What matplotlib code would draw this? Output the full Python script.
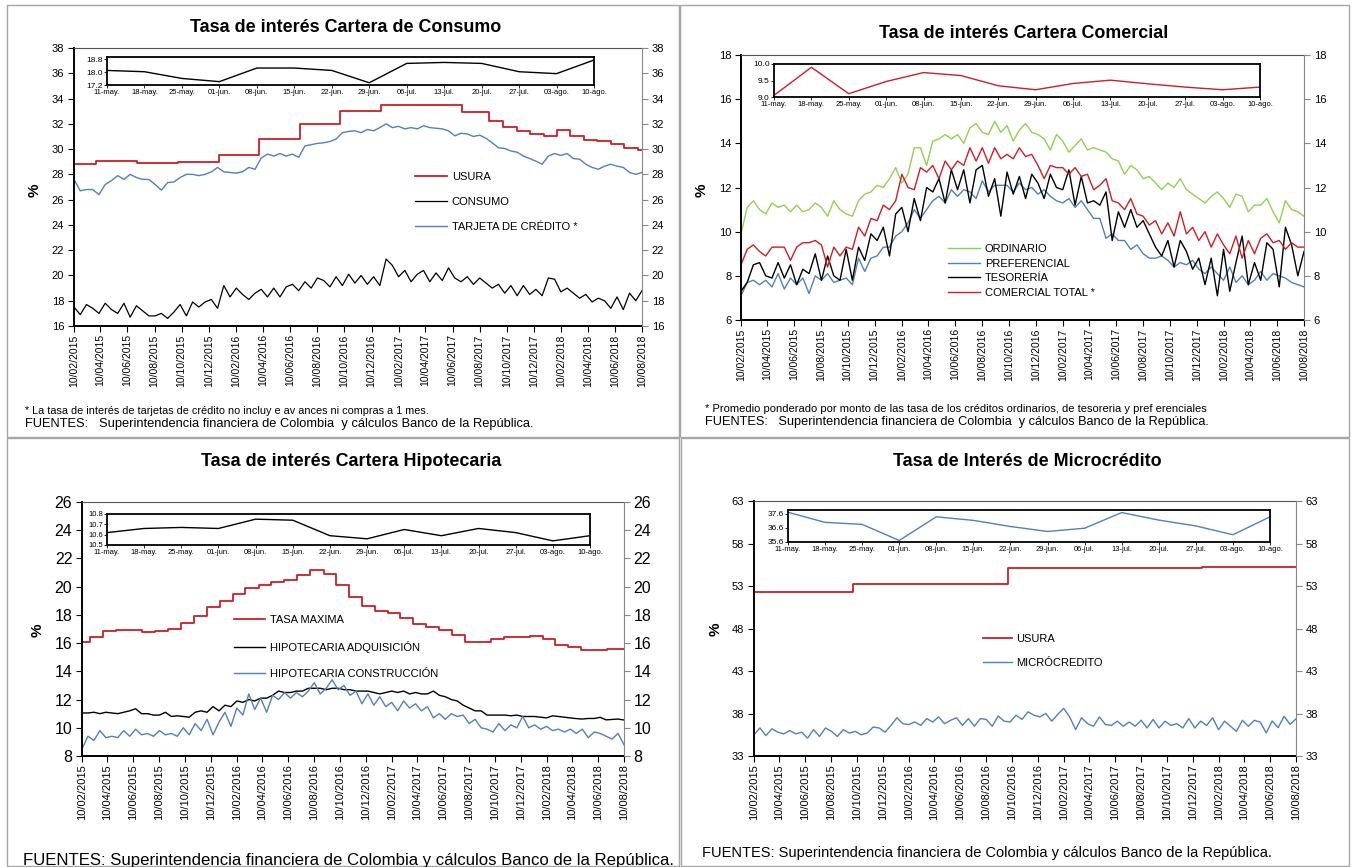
import matplotlib
matplotlib.use("Agg")
import matplotlib.pyplot as plt
import matplotlib.dates as mdates
from matplotlib.patches import Rectangle
import pandas as pd

W, H = 1352, 867
plt.rcParams['font.family'] = ['Liberation Sans Narrow', 'Liberation Sans', 'DejaVu Sans']

RED = '#CC1F26'
BLUE = '#4F81BD'
GREEN = '#92D050'
BLACK = '#000000'

START = pd.Timestamp('2015-02-10')
END = pd.Timestamp('2018-08-10')

# weekly series read every ~2 weeks (92 points, 10/02/2015 .. 10/08/2018)
dates = pd.date_range(START, END, periods=92)
tick_dates = pd.date_range('2015-02-01', '2018-08-01', freq='2MS') + pd.Timedelta(days=9)

week_labels = ['11-may.', '18-may.', '25-may.', '01-jun.', '08-jun.', '15-jun.', '22-jun.',
               '29-jun.', '06-jul.', '13-jul.', '20-jul.', '27-jul.', '03-ago.', '10-ago.']

# ---------------- Consumo ----------------
usura_cons_dates = ['2015-02-10', '2015-04-01', '2015-07-01', '2015-10-01', '2016-01-01',
                    '2016-04-01', '2016-07-01', '2016-10-01', '2017-01-01', '2017-07-01',
                    '2017-09-01', '2017-10-01', '2017-11-01', '2017-12-01', '2018-01-01',
                    '2018-02-01', '2018-03-01', '2018-04-01', '2018-05-01', '2018-06-01',
                    '2018-07-01', '2018-08-01']
usura_cons = [28.82, 29.06, 28.89, 29.00, 29.52, 30.81, 32.01, 32.99, 33.51, 32.97,
              32.22, 31.73, 31.44, 31.16, 31.04, 31.52, 31.02, 30.72, 30.66, 30.42,
              30.05, 29.91]

consumo = [17.5, 16.9, 17.7, 17.4, 17.0, 17.8, 17.3, 17.0, 17.8, 16.7, 17.6, 17.2, 16.8,
           16.8, 17.0, 16.6, 17.1, 17.7, 16.8, 17.9, 17.5, 17.9, 18.1, 17.4, 19.2, 18.3,
           19.0, 18.5, 18.1, 18.6, 18.9, 18.3, 19.0, 18.3, 19.1, 19.3, 18.8, 19.5, 19.0,
           19.8, 19.6, 19.1, 19.9, 19.2, 20.1, 19.4, 20.0, 19.3, 19.9, 19.2, 21.3, 20.8,
           19.9, 20.4, 19.5, 20.1, 20.4, 19.5, 20.2, 19.6, 20.6, 19.8, 19.5, 19.9, 19.3,
           19.8, 19.4, 19.0, 19.3, 18.6, 19.2, 18.4, 19.2, 18.5, 18.9, 18.4, 19.8, 19.7,
           18.7, 19.0, 18.6, 18.2, 18.5, 17.9, 18.2, 18.0, 17.4, 18.3, 17.3, 18.6, 18.0,
           18.8]

tarjeta = [27.6, 26.7, 26.8, 26.8, 26.4, 27.2, 27.5, 27.9, 27.6, 28.0, 27.75, 27.6, 27.6,
           27.2, 26.75, 27.35, 27.4, 27.75, 28.0, 28.0, 27.9, 28.0, 28.2, 28.55, 28.2, 28.15,
           28.1, 28.2, 28.55, 28.4, 29.3, 29.6, 29.45, 29.65, 29.45, 29.6, 29.35, 30.25, 30.35,
           30.45, 30.5, 30.6, 30.8, 31.3, 31.4, 31.45, 31.3, 31.55, 31.45, 31.7, 32.0, 31.7,
           31.8, 31.6, 31.7, 31.6, 31.85, 31.7, 31.65, 31.6, 31.45, 31.05, 31.25, 31.2, 31.0,
           31.1, 30.85, 30.5, 30.1, 30.05, 29.85, 29.75, 29.45, 29.25, 29.05, 28.8, 29.45, 29.65,
           29.5, 29.65, 29.25, 29.2, 28.8, 28.55, 28.4, 28.65, 28.8, 28.65, 28.55, 28.15, 28.0,
           28.15]

consumo_weeks = [18.11, 18.03, 17.61, 17.41, 18.26, 18.26, 18.11, 17.34, 18.55, 18.61,
                 18.55, 18.03, 17.91, 18.76]

# ---------------- Comercial ----------------
ordinario = [9.9, 11.1, 11.4, 11.0, 10.8, 11.3, 11.1, 11.2, 10.9, 11.2, 10.9, 11.0, 11.3,
             11.1, 10.7, 11.4, 11.0, 10.8, 10.7, 11.4, 11.7, 11.8, 12.1, 12.0, 12.4, 12.9,
             12.2, 12.6, 13.8, 13.8, 13.0, 14.1, 14.2, 14.4, 14.2, 14.4, 14.0, 14.7, 14.9,
             14.5, 14.4, 15.0, 14.5, 14.8, 14.1, 14.6, 14.9, 14.5, 14.4, 14.2, 13.7, 14.4,
             14.1, 13.6, 13.9, 14.2, 13.7, 13.8, 13.7, 13.6, 13.3, 13.2, 12.6, 13.0, 12.8,
             12.4, 12.5, 12.2, 11.9, 12.2, 12.0, 12.4, 11.9, 11.7, 11.5, 11.3, 11.6, 11.8,
             11.5, 11.1, 11.7, 11.6, 10.9, 11.2, 11.2, 11.5, 10.9, 10.4, 11.4, 11.0, 10.9,
             10.7]

preferencial = [7.1, 7.7, 7.8, 7.6, 7.8, 7.5, 8.1, 7.4, 7.9, 7.6, 7.9, 7.2, 8.0,
                7.8, 8.1, 7.7, 7.8, 7.9, 7.6, 8.8, 8.2, 8.8, 8.9, 9.3, 9.3, 9.8,
                10.0, 10.4, 11.0, 10.6, 11.0, 11.4, 11.6, 11.3, 11.9, 11.6, 11.9, 11.8, 11.5,
                12.3, 11.8, 12.1, 12.1, 12.1, 11.8, 12.2, 11.9, 12.0, 11.7, 11.9, 11.6, 11.4,
                11.3, 11.5, 11.1, 11.4, 11.0, 10.6, 10.6, 9.7, 9.9, 9.6, 9.6, 9.2, 9.4,
                9.0, 8.8, 8.8, 8.9, 8.7, 8.4, 8.6, 8.5, 8.7, 8.3, 8.1, 8.4, 8.1,
                7.8, 8.4, 7.7, 8.0, 7.6, 7.8, 8.2, 7.8, 8.1, 8.0, 7.9, 7.7, 7.6,
                7.5]

tesoreria = [7.3, 7.7, 8.5, 8.6, 8.0, 7.9, 8.6, 7.9, 8.5, 7.6, 8.3, 8.1, 9.0,
             7.8, 8.9, 8.0, 7.8, 9.2, 7.8, 9.3, 8.7, 9.9, 9.6, 10.2, 8.9, 10.8,
             11.1, 10.0, 11.5, 10.5, 12.0, 11.8, 12.4, 11.3, 12.8, 11.9, 12.8, 11.3, 12.8,
             13.0, 11.6, 12.4, 10.7, 12.7, 11.7, 12.5, 11.5, 12.6, 12.2, 11.5, 12.6, 12.0,
             11.9, 12.8, 11.2, 12.5, 11.3, 11.4, 11.2, 11.8, 9.6, 10.9, 10.2, 11.0, 10.2,
             10.5, 9.9, 9.3, 8.9, 9.6, 8.4, 9.6, 9.1, 8.3, 8.8, 7.6, 8.8, 7.1,
             9.2, 7.3, 8.6, 9.8, 7.6, 8.6, 7.8, 9.5, 9.2, 7.5, 10.2, 9.4, 8.0,
             9.1]

comercial_total = [8.5, 9.2, 9.4, 9.1, 8.9, 9.3, 9.3, 9.3, 8.7, 9.3, 9.5, 9.5, 9.6,
                   9.4, 8.4, 9.3, 8.9, 9.3, 9.2, 10.2, 9.8, 10.6, 10.5, 11.2, 11.0, 11.4,
                   12.6, 12.0, 11.9, 12.9, 12.7, 13.0, 12.4, 13.2, 12.8, 13.2, 13.0, 13.8, 13.2,
                   13.8, 13.1, 13.8, 13.3, 13.5, 13.3, 13.8, 13.4, 13.5, 13.0, 12.4, 13.0, 12.9,
                   12.9, 12.6, 12.9, 12.5, 12.6, 11.9, 12.1, 12.4, 11.4, 11.3, 11.0, 11.5, 10.8,
                   10.7, 10.3, 10.5, 9.9, 10.4, 9.8, 10.9, 9.9, 10.2, 9.6, 10.0, 9.3, 9.9,
                   9.4, 9.0, 9.8, 8.8, 9.6, 9.0, 9.7, 9.9, 9.5, 9.6, 9.2, 9.5, 9.3,
                   9.3]

comercial_weeks = [9.05, 9.90, 9.10, 9.47, 9.74, 9.65, 9.34, 9.22, 9.41, 9.51, 9.40, 9.30,
                   9.22, 9.30]

# ---------------- Hipotecaria ----------------
tasa_max_dates = ['2015-02-10'] + [d.strftime('%Y-%m-%d') for d in
                                   pd.date_range('2015-03-01', '2018-08-01', freq='MS')]
tasa_max = [16.1, 16.45, 16.85, 16.95, 16.95, 16.8, 16.85, 17.0, 17.4, 17.95, 18.55,
            18.95, 19.5, 19.9, 20.15, 20.3, 20.5, 20.8, 21.2, 20.9, 20.1, 19.3, 18.65,
            18.25, 18.1, 17.75, 17.35, 17.15, 16.95, 16.55, 16.1, 16.1, 16.3, 16.4, 16.45,
            16.5, 16.3, 15.9, 15.7, 15.5, 15.5, 15.6, 15.6]

adquisicion = [11.05, 11.05, 11.1, 11.0, 11.1, 11.05, 11.0, 11.1, 11.2, 11.35, 11.0, 11.0, 10.9,
               10.9, 11.1, 10.8, 10.85, 10.8, 10.75, 11.1, 11.2, 11.1, 11.5, 11.2, 11.6, 11.5,
               11.9, 11.8, 12.0, 11.9, 12.1, 12.1, 12.3, 12.6, 12.5, 12.5, 12.6, 12.6, 12.8,
               12.8, 12.8, 12.7, 12.8, 12.8, 12.7, 12.7, 12.6, 12.6, 12.6, 12.5, 12.4, 12.5,
               12.6, 12.5, 12.6, 12.4, 12.5, 12.4, 12.4, 12.6, 12.3, 12.2, 12.0, 11.9, 11.6,
               11.4, 11.2, 11.2, 10.9, 10.9, 10.9, 10.9, 10.85, 10.9, 10.8, 10.8, 10.8, 10.75,
               10.7, 10.85, 10.8, 10.75, 10.7, 10.65, 10.62, 10.66, 10.66, 10.74, 10.56, 10.59, 10.62,
               10.55]

construccion = [8.5, 9.4, 9.1, 9.8, 9.3, 9.4, 9.3, 9.8, 9.4, 9.9, 9.5, 9.6, 9.4,
                9.8, 9.5, 9.6, 9.4, 10.0, 9.5, 10.3, 9.8, 10.6, 9.5, 10.4, 11.1, 10.1,
                11.4, 10.9, 12.4, 11.3, 12.1, 11.1, 12.3, 12.0, 12.5, 12.1, 12.5, 12.2, 12.6,
                13.2, 12.4, 12.8, 13.4, 12.7, 13.0, 12.3, 12.6, 11.7, 12.4, 11.6, 12.2, 11.5,
                11.8, 11.2, 11.9, 11.4, 11.7, 11.2, 11.5, 10.7, 11.0, 10.6, 11.0, 10.8, 10.9,
                10.3, 10.6, 10.0, 9.9, 9.7, 10.3, 9.8, 10.2, 10.0, 10.8, 10.0, 10.2, 9.9,
                10.1, 9.8, 9.9, 9.7, 9.9, 9.6, 9.9, 9.3, 9.7, 9.6, 9.4, 9.2, 9.6,
                8.8]

adquisicion_weeks = [10.62, 10.66, 10.67, 10.66, 10.75, 10.74, 10.59, 10.56, 10.65, 10.59,
                     10.66, 10.62, 10.54, 10.59]

# ---------------- Microcredito ----------------
usura_micro_dates = ['2015-02-10', '2015-10-01', '2016-10-01', '2018-01-01']
usura_micro = [52.3, 53.2, 55.1, 55.25]

microcredito = [35.5, 36.3, 35.4, 36.2, 35.8, 35.6, 36.0, 35.6, 35.8, 35.1, 36.1, 35.3, 36.3,
                35.9, 35.3, 36.1, 35.7, 35.9, 35.5, 35.7, 36.4, 36.3, 35.8, 36.6, 37.5, 36.8,
                36.7, 37.0, 36.6, 37.4, 37.0, 37.6, 36.8, 37.2, 37.5, 36.6, 37.4, 36.5, 37.4,
                37.3, 36.5, 37.7, 37.1, 37.0, 37.8, 37.3, 38.2, 37.8, 37.6, 38.0, 37.1, 37.9,
                38.6, 37.6, 36.1, 37.5, 36.8, 36.5, 37.6, 36.7, 36.6, 37.1, 36.5, 37.0, 36.5,
                37.2, 36.3, 37.3, 36.3, 37.1, 36.6, 36.8, 36.3, 37.4, 36.3, 37.1, 36.6, 37.5,
                36.1, 37.1, 36.5, 35.9, 37.2, 36.5, 37.2, 36.98, 35.71, 37.12, 36.34, 37.67, 36.73,
                37.37]

micro_weeks = [37.69, 36.98, 36.84, 35.71, 37.37, 37.12, 36.69, 36.34, 36.57, 37.67, 37.14,
               36.73, 36.11, 37.37]


fig = plt.figure(figsize=(W / 100, H / 100), dpi=100)


def px_axes(x0, y0, x1, y1, **kw):
    return fig.add_axes([x0 / W, 1 - y1 / H, (x1 - x0) / W, (y1 - y0) / H], **kw)


def fig_text(x, y, s, **kw):
    fig.text(x / W, 1 - y / H, s, **kw)


def step_line(ax, change_dates, values, **kw):
    xs = list(pd.to_datetime(change_dates)) + [END]
    ys = list(values) + [values[-1]]
    return ax.step(xs, ys, where='post', **kw)[0]


def main_axes(box, ylim, yticks, ysize, xsize):
    ax = px_axes(*box)
    ax.set_xlim(START, END)
    ax.set_ylim(ylim)
    ax.set_yticks(yticks)
    ax.set_xticks(tick_dates)
    ax.xaxis.set_major_formatter(mdates.DateFormatter('%d/%m/%Y'))
    ax.tick_params(axis='x', labelrotation=90, labelsize=xsize, length=4, width=0.8, pad=2)
    ax.tick_params(axis='y', labelsize=ysize, length=4, width=0.8, pad=3)
    for s in ('left', 'bottom'):
        ax.spines[s].set_linewidth(1.4)
    ax.spines['top'].set_color('#555555')
    ax.spines['top'].set_linewidth(0.8)
    ax.spines['right'].set_visible(False)

    ax2 = ax.twinx()
    ax2.set_ylim(ylim)
    ax2.set_yticks(yticks)
    ax2.tick_params(axis='y', labelsize=ysize, length=4, width=0.8, color='#888888', pad=3)
    for s in ('left', 'bottom', 'top'):
        ax2.spines[s].set_visible(False)
    ax2.spines['right'].set_color('#888888')
    return ax


def small_axes(box, values, color, ylim, yticks, fmt, ysize=6):
    ins = px_axes(*box, zorder=5)
    ins.plot(range(len(values)), values, color=color, lw=1.0)
    ins.set_xlim(0, len(values) - 1)
    ins.set_ylim(ylim)
    ins.set_yticks(yticks)
    ins.set_yticklabels([fmt.format(v) for v in yticks])
    ins.set_xticks(range(len(week_labels)))
    ins.set_xticklabels(week_labels)
    ins.tick_params(axis='x', labelsize=5.5, length=2, width=0.6, pad=1)
    ins.tick_params(axis='y', labelsize=ysize, length=2, width=0.6, pad=1)
    for s in ins.spines.values():
        s.set_linewidth(1.3)
    return ins


def legend_at(ax, x, y, size, spacing, hlen):
    ax.legend(loc='upper left', bbox_to_anchor=(x / W, 1 - y / H), bbox_transform=fig.transFigure,
              frameon=False, fontsize=size, labelspacing=spacing, handlelength=hlen,
              handletextpad=0.4, borderpad=0, borderaxespad=0)


# panel frames
for x0, y0, x1, y1 in [(7, 5, 679, 437), (680, 5, 1349, 437), (7, 438, 679, 866), (681, 438, 1349, 866)]:
    fig.add_artist(Rectangle((x0 / W, 1 - y1 / H), (x1 - x0) / W, (y1 - y0) / H,
                             transform=fig.transFigure, fill=False, ec='#a6a6a6', lw=1))

TITLE = 12.9

# ---- panel 1: consumo
ax = main_axes((74, 48, 642, 326), (16, 38), range(16, 39, 2), 8, 7.5)
step_line(ax, usura_cons_dates, usura_cons, color=RED, lw=1.3, label='USURA')
ax.plot(dates, consumo, color=BLACK, lw=0.9, label='CONSUMO')
ax.plot(dates, tarjeta, color=BLUE, lw=1.0, label='TARJETA DE CRÉDITO *')
legend_at(ax, 415, 172, 8, 1.35, 2.9)
small_axes((107, 57, 594, 85), consumo_weeks, BLACK, (17.2, 18.95), [17.2, 18.0, 18.8], '{:.1f}')
fig_text(346, 28, 'Tasa de interés Cartera de Consumo', ha='center', va='center',
         fontsize=TITLE, fontweight='bold')
fig_text(35, 190, '%', ha='center', va='center', rotation=90, fontsize=11, fontweight='bold')
fig_text(25, 411, '* La tasa de interés de tarjetas de crédito no incluy e av ances ni compras a 1 mes.',
         va='center', fontsize=7.8)
fig_text(25, 424, 'FUENTES:   Superintendencia financiera de Colombia  y cálculos Banco de la República.',
         va='center', fontsize=9.3)

# ---- panel 2: comercial
ax = main_axes((741, 55, 1304, 320), (6, 18), range(6, 19, 2), 8, 7.5)
ax.plot(dates, ordinario, color=GREEN, lw=1.0, label='ORDINARIO')
ax.plot(dates, preferencial, color=BLUE, lw=1.0, label='PREFERENCIAL')
ax.plot(dates, tesoreria, color=BLACK, lw=1.0, label='TESORERÍA')
ax.plot(dates, comercial_total, color=RED, lw=1.0, label='COMERCIAL TOTAL *')
legend_at(ax, 948, 244, 8, 0.42, 2.9)
small_axes((774, 64, 1260, 97), comercial_weeks, RED, (9.0, 10.0), [9.0, 9.5, 10.0], '{:.1f}')
fig_text(1024, 33, 'Tasa de interés Cartera Comercial', ha='center', va='center',
         fontsize=TITLE, fontweight='bold')
fig_text(702, 190, '%', ha='center', va='center', rotation=90, fontsize=11, fontweight='bold')
fig_text(705, 409, '* Promedio ponderado por monto de las tasa de los créditos ordinarios, de tesoreria y pref erenciales',
         va='center', fontsize=8)
fig_text(705, 422, 'FUENTES:   Superintendencia financiera de Colombia  y cálculos Banco de la República.',
         va='center', fontsize=9.2)

# ---- panel 3: hipotecaria
ax = main_axes((82, 502, 624, 756), (8, 26), range(8, 27, 2), 11.5, 8)
step_line(ax, tasa_max_dates, tasa_max, color=RED, lw=1.3, label='TASA MAXIMA')
ax.plot(dates, adquisicion, color=BLACK, lw=1.0, label='HIPOTECARIA ADQUISICIÓN')
ax.plot(dates, construccion, color=BLUE, lw=1.0, label='HIPOTECARIA CONSTRUCCIÓN')
legend_at(ax, 234, 615, 8, 1.45, 2.8)
small_axes((107, 514, 590, 545), adquisicion_weeks, BLACK, (10.5, 10.8), [10.5, 10.6, 10.7, 10.8],
           '{:.1f}', ysize=5.5)
fig_text(351, 462, 'Tasa de interés Cartera Hipotecaria', ha='center', va='center',
         fontsize=TITLE, fontweight='bold')
fig_text(38, 630, '%', ha='center', va='center', rotation=90, fontsize=11, fontweight='bold')
fig_text(23, 860, 'FUENTES: Superintendencia financiera de Colombia y cálculos Banco de la República.',
         va='center', fontsize=12.1)

# ---- panel 4: microcredito
ax = main_axes((754, 501, 1296, 756), (33, 63), range(33, 64, 5), 8, 8)
step_line(ax, usura_micro_dates, usura_micro, color=RED, lw=1.3, label='USURA')
ax.plot(dates, microcredito, color=BLUE, lw=1.0, label='MICRÓCREDITO')
legend_at(ax, 983, 634, 8, 1.25, 2.6)
small_axes((788, 510, 1270, 542), micro_weeks, BLUE, (35.6, 37.85), [35.6, 36.6, 37.6], '{:.1f}')
fig_text(1027, 461, 'Tasa de Interés de Microcrédito', ha='center', va='center',
         fontsize=TITLE, fontweight='bold')
fig_text(716, 629, '%', ha='center', va='center', rotation=90, fontsize=11, fontweight='bold')
fig_text(702, 853, 'FUENTES: Superintendencia financiera de Colombia y cálculos Banco de la República.',
         va='center', fontsize=10.5)

fig.savefig('out.png', dpi=100)
